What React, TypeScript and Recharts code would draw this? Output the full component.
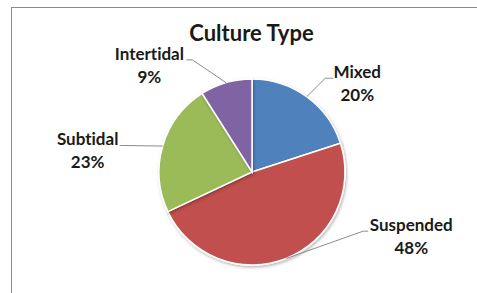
import { PieChart, Pie, Cell } from 'recharts';

const categories = ['Mixed', 'Suspended', 'Subtidal', 'Intertidal'];
const shares = [20, 48, 23, 9];
const colors = ['#4F81BD', '#C0504D', '#9BBB59', '#8064A2'];

// leader elbow in polar terms (deg, radius) and horizontal offset of the label centre
const elbowAngle = [52, -28, 168.5, 118];
const elbowRadius = [119, 126, 133, 127];
const textShift = [32, 48, -34, -43];
const tailLen = [8, 5, 2, 6];

const data = categories.map((name, i) => ({ name, value: shares[i] }));

const FONT = 'Lato, "Open Sans", sans-serif';
const RAD = Math.PI / 180;

function renderLabel(props: any) {
  const { cx, cy, midAngle, outerRadius, index } = props;
  const sx = cx + outerRadius * Math.cos(-midAngle * RAD);
  const sy = cy + outerRadius * Math.sin(-midAngle * RAD);
  const ex = cx + elbowRadius[index] * Math.cos(-elbowAngle[index] * RAD);
  const ey = cy + elbowRadius[index] * Math.sin(-elbowAngle[index] * RAD);
  const dir = textShift[index] > 0 ? 1 : -1;
  const tx = ex + dir * tailLen[index];
  const lx = ex + textShift[index];
  return (
    <g key={`lbl-${index}`}>
      <polyline
        points={`${sx},${sy} ${ex},${ey} ${tx},${ey}`}
        fill="none"
        stroke="#8c8c8c"
        strokeWidth={1}
      />
      <text
        x={lx}
        y={ey}
        textAnchor="middle"
        fontFamily={FONT}
        fontWeight={700}
        fontSize={17}
        fill="#1a1a1a"
        style={{ fontVariantLigatures: 'none' }}
      >
        <tspan x={lx} dy={0}>{categories[index]}</tspan>
        <tspan x={lx} dy={23}>{shares[index]}%</tspan>
      </text>
    </g>
  );
}

export default function App() {
  return (
    <div
      style={{
        position: 'absolute',
        left: 0,
        top: 0,
        width: 477,
        height: 293,
        overflow: 'hidden',
        background: '#fff',
      }}
    >
      <div
        style={{
          position: 'absolute',
          left: 11,
          top: 7,
          width: 500,
          height: 320,
          border: '1px solid #8a8a8a',
        }}
      />
      <div
        style={{
          position: 'absolute',
          left: 0,
          top: 19,
          width: 503,
          textAlign: 'center',
          fontFamily: FONT,
          fontWeight: 700,
          fontSize: 22,
          lineHeight: '28px',
          color: '#1a1a1a',
        }}
      >
        Culture Type
      </div>
      <div style={{ position: 'absolute', left: 0, top: 0 }}>
        <PieChart width={477} height={293} margin={{ top: 0, right: 0, bottom: 0, left: 0 }}>
          <defs>
            <filter id="pieShadow" x="-10%" y="-10%" width="120%" height="120%">
              <feDropShadow dx="1" dy="1.5" stdDeviation="1.5" floodColor="#000" floodOpacity="0.3" />
            </filter>
          </defs>
          <Pie
            data={data}
            dataKey="value"
            nameKey="name"
            cx={252}
            cy={172}
            outerRadius={93}
            startAngle={90}
            endAngle={-270}
            stroke="#ffffff"
            strokeWidth={1.5}
            label={renderLabel}
            labelLine={false}
            isAnimationActive={false}
            style={{ filter: 'url(#pieShadow)' }}
          >
            {data.map((d, i) => (
              <Cell key={d.name} fill={colors[i]} />
            ))}
          </Pie>
        </PieChart>
      </div>
    </div>
  );
}
